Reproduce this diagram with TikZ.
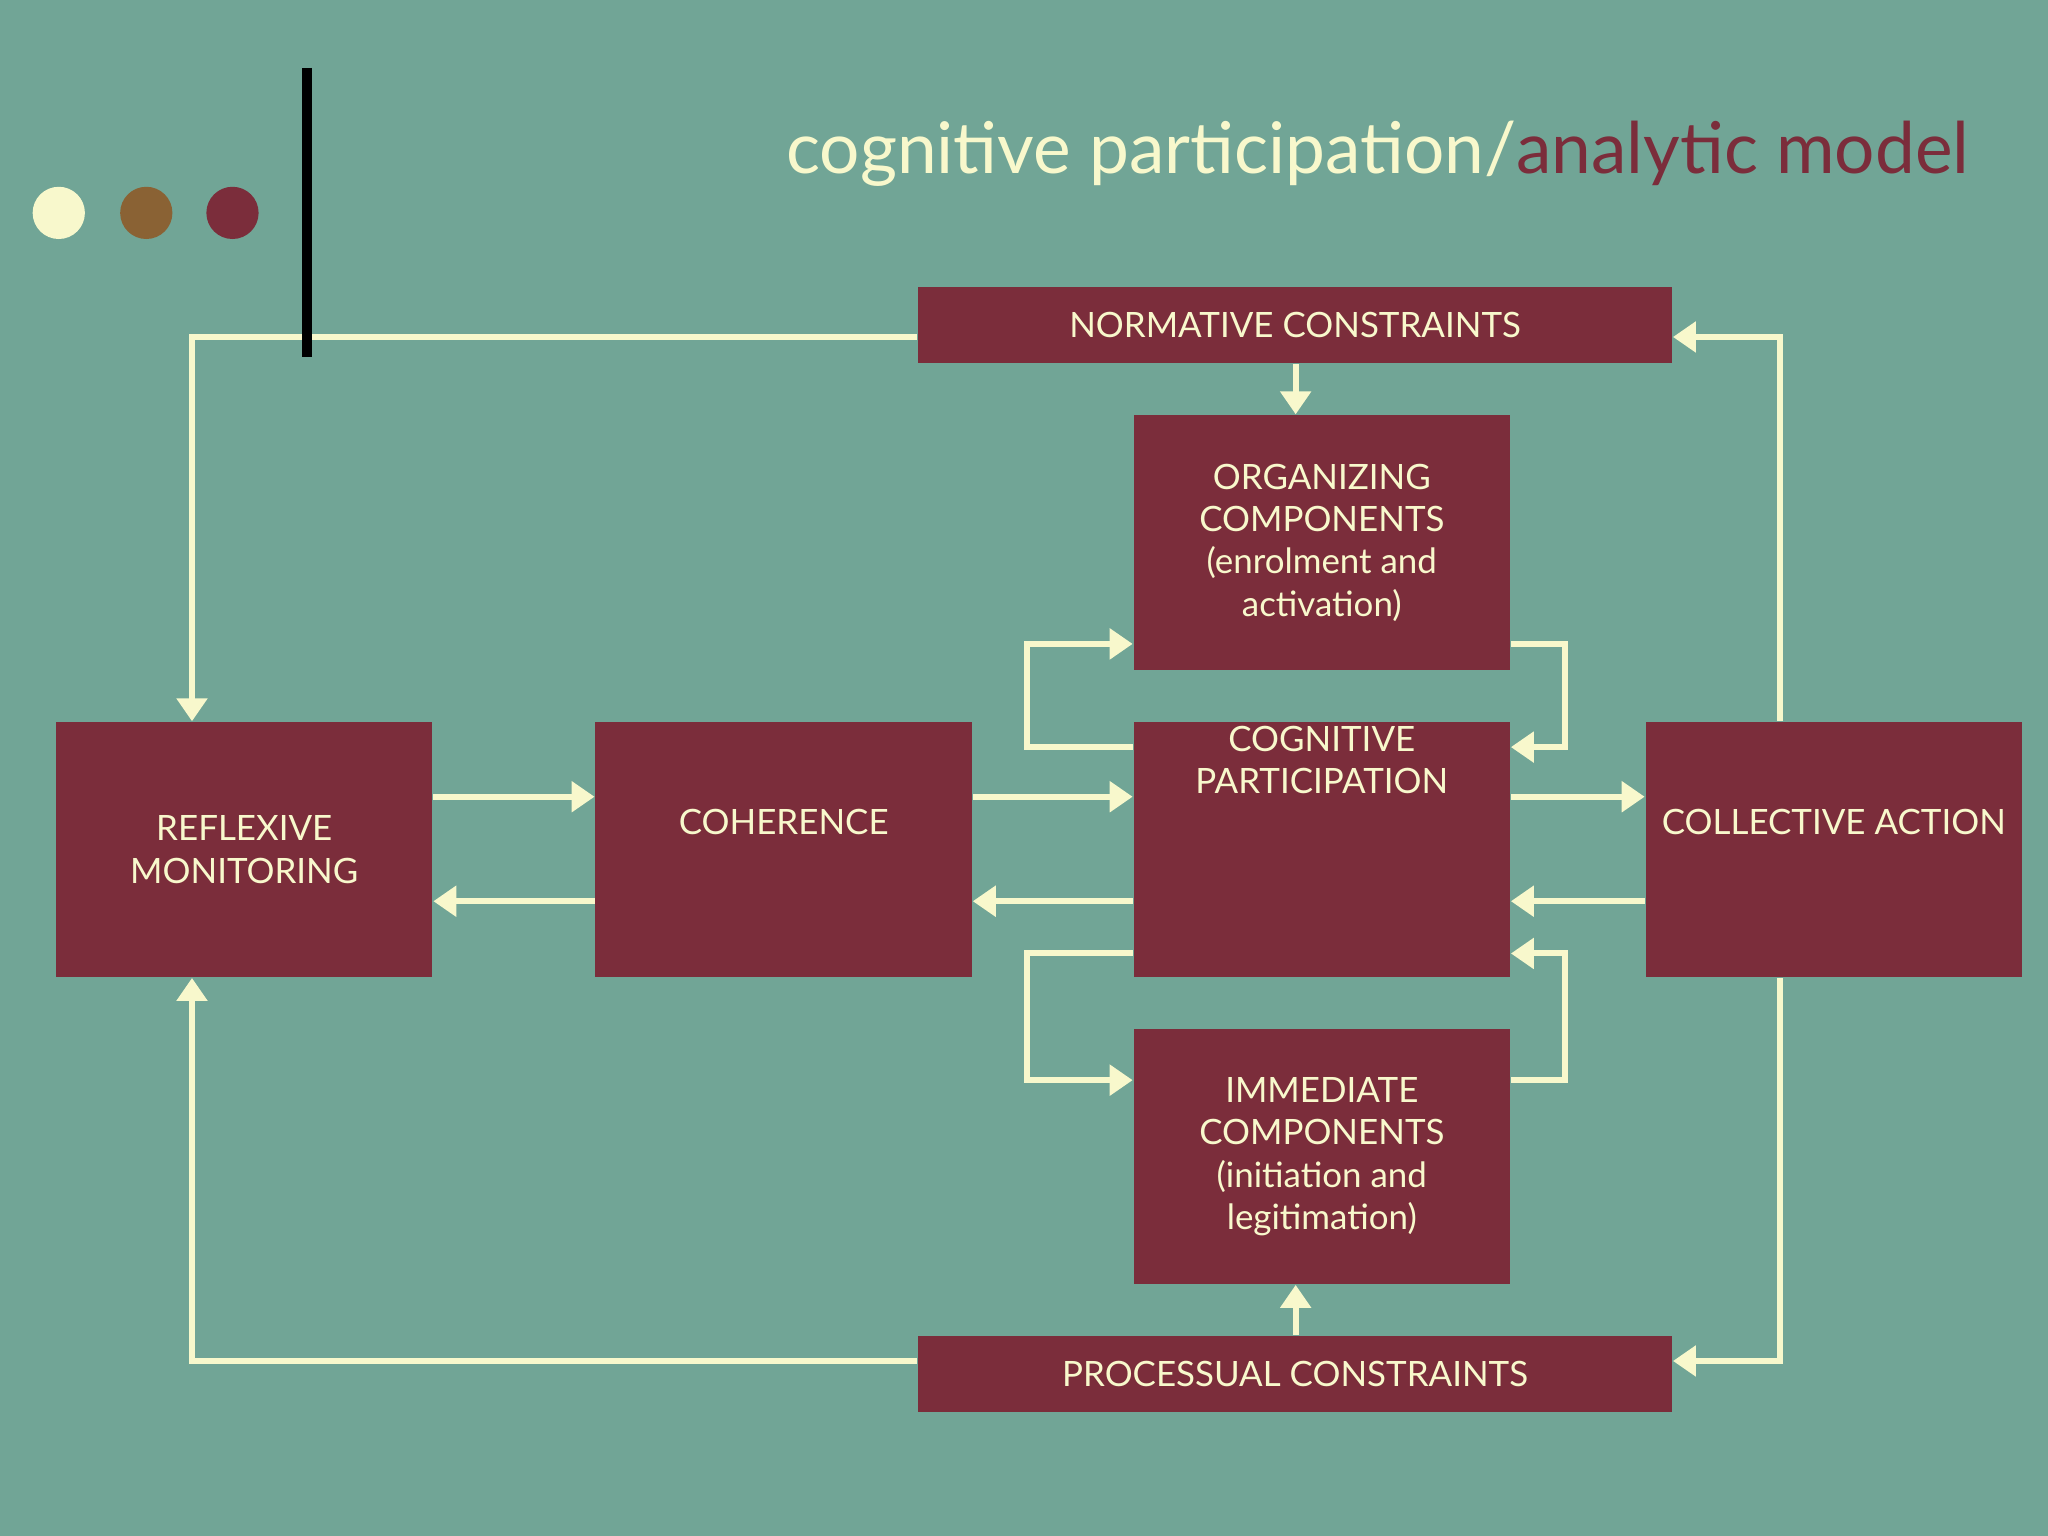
\documentclass[tikz,border=0pt]{standalone}
\usepackage{fontspec}
\setmainfont{Lato}
\usetikzlibrary{arrows.meta}
\definecolor{bg}{HTML}{71A596}
\definecolor{box}{HTML}{7B2D3B}
\definecolor{cream}{HTML}{F8F8CC}
\definecolor{brn}{HTML}{8A6234}
\begin{document}
\begin{tikzpicture}[x=0.01cm,y=-0.01cm,
  bx/.style={fill=box,draw=none,text=cream,align=center,font=\fontsize{7.6}{9.2}\selectfont,inner sep=0pt},
  ln/.style={draw=cream,line width=1.3pt},
  ar/.style={ln,-{Triangle[length=5pt,width=6.5pt]}}]
\fill[bg] (0,0) rectangle (1568,1176);
\useasboundingbox (0,0) rectangle (1568,1176);
\node[bx,minimum width=5.77cm,minimum height=0.58cm] (norm) at (991.5,249) {NORMATIVE CONSTRAINTS};
\node[bx,minimum width=5.77cm,minimum height=0.58cm] (proc) at (991.5,1052) {PROCESSUAL CONSTRAINTS};
\node[bx,minimum width=2.88cm,minimum height=1.95cm] (org) at (1012,415.5) {ORGANIZING\\COMPONENTS\\(enrolment and\\activation)};
\node[bx,minimum width=2.88cm,minimum height=1.95cm] (imm) at (1012,885.5) {IMMEDIATE\\COMPONENTS\\(initiation and\\legitimation)};
\node[bx,minimum width=2.88cm,minimum height=1.95cm] (refl) at (187,650.5) {REFLEXIVE\\MONITORING};
\node[bx,minimum width=2.88cm,minimum height=1.95cm] (coh) at (600,650.5) {COHERENCE\\[3pt]};
\node[bx,minimum width=2.88cm,minimum height=1.95cm] (cog) at (1012,650.5) {COGNITIVE\\PARTICIPATION\\[30pt]};
\node[bx,minimum width=2.88cm,minimum height=1.95cm] (col) at (1404,650.5) {COLLECTIVE ACTION\\[3pt]};
% outer loops
\draw[ar] (norm.west |- 0,258) -- (147,258) -- (refl.north -| 147,0);
\draw[ar] (proc.west |- 0,1042) -- (147,1042) -- (refl.south -| 147,0);
\draw[ar] (col.north -| 1363,0) -- (1363,258) -- (norm.east |- 0,258);
\draw[ar] (col.south -| 1363,0) -- (1363,1042) -- (proc.east |- 0,1042);
\draw[ar] (norm.south -| 992,0) -- (org.north -| 992,0);
\draw[ar] (proc.north -| 992,0) -- (imm.south -| 992,0);
% horizontal pairs
\draw[ar] (refl.east |- 0,610) -- (coh.west |- 0,610);
\draw[ar] (coh.west |- 0,690) -- (refl.east |- 0,690);
\draw[ar] (coh.east |- 0,610) -- (cog.west |- 0,610);
\draw[ar] (cog.west |- 0,690) -- (coh.east |- 0,690);
\draw[ar] (cog.east |- 0,610) -- (col.west |- 0,610);
\draw[ar] (col.west |- 0,690) -- (cog.east |- 0,690);
% small loops
\draw[ar] (cog.west |- 0,572) -- (786,572) -- (786,493) -- (org.west |- 0,493);
\draw[ar] (org.east |- 0,493) -- (1198,493) -- (1198,572) -- (cog.east |- 0,572);
\draw[ar] (cog.west |- 0,730) -- (786,730) -- (786,827) -- (imm.west |- 0,827);
\draw[ar] (imm.east |- 0,827) -- (1198,827) -- (1198,730) -- (cog.east |- 0,730);
% decoration
\draw[black,line width=2pt] (235,52) -- (235,273);
\fill[cream] (45,163) circle (20);
\fill[brn] (112,163) circle (20);
\fill[box] (178,163) circle (20);
\node[font=\fontsize{15.5}{18}\selectfont,inner sep=0pt] (title) at (1055,118) {\textcolor{cream}{cognitive participation/}\textcolor{box}{analytic model}};
\end{tikzpicture}
\end{document}
